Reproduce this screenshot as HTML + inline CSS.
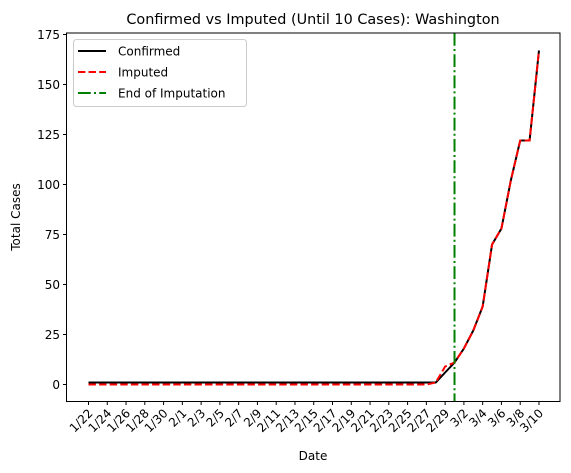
<!DOCTYPE html>
<html><head><meta charset="utf-8"><style>
body{margin:0;background:#fff}
svg{display:block;font-family:"DejaVu Sans","Liberation Sans",sans-serif}
</style></head><body>
<svg id="chart" width="571" height="473">
<text x="313" y="24" font-size="14.4" text-anchor="middle">Confirmed vs Imputed (Until 10 Cases): Washington</text>
<g id="axes"></g>
<g id="series"></g>
<rect x="66.5" y="33" width="493.5" height="368.5" fill="none" stroke="#000" stroke-width="1"/>
<text x="313" y="460" font-size="12" text-anchor="middle">Date</text>
<text transform="translate(20,217) rotate(-90)" font-size="12" text-anchor="middle">Total Cases</text>
<g>
<rect x="73.5" y="39.5" width="173" height="67" rx="3" fill="#fff" fill-opacity="0.8" stroke="#ccc"/>
<line x1="78" y1="51" x2="106" y2="51" stroke="#000" stroke-width="2"/>
<text x="118" y="55.5" font-size="12">Confirmed</text>
<line x1="78" y1="72" x2="106" y2="72" stroke="red" stroke-width="2" stroke-dasharray="7.4,3.2"/>
<text x="118" y="76.5" font-size="12">Imputed</text>
<line x1="78" y1="93" x2="106" y2="93" stroke="green" stroke-width="2" stroke-dasharray="12.8,3.2,2,3.2"/>
<text x="118" y="97.5" font-size="12">End of Imputation</text>
</g>
</svg>
<script>
const dates=[];
(function(){const m=[[1,22,31],[2,1,29],[3,1,10]];for(const [mo,a,b] of m)for(let d=a;d<=b;d++)dates.push(mo+'/'+d);})();
const confirmed=[1,1,1,1,1,1,1,1,1,1, 1,1,1,1,1,1,1,1,1,1,1,1,1,1,1,1,1,1,1,1,1,1,1,1,1,1,1,1,6, 11,18,27,39,70,78,102,122,122,167];
const imputed=[0,0,0,0,0,0,0,0,0,0, 0,0,0,0,0,0,0,0,0,0,0,0,0,0,0,0,0,0,0,0,0,0,0,0,0,0,0,1,9, 11,18,27,39,70,78,102,122,122,167];
const endDate='3/1';
const yTicks=[0,25,50,75,100,125,150,175];
const NS='http://www.w3.org/2000/svg';
const x=i=>88.5+i*9.385;
const y=v=>384.5-v*2.0;
function mk(t,a,p){const e=document.createElementNS(NS,t);for(const k in a)e.setAttribute(k,a[k]);p.appendChild(e);return e;}
const ax=document.getElementById('axes'),se=document.getElementById('series');
yTicks.forEach(v=>{
 const l=mk('line',{x1:63,x2:66.5,y1:y(v),y2:y(v),stroke:'#000'},ax);
 
 
 const t=mk('text',{x:60,y:y(v)+4.5,'font-size':12,'text-anchor':'end'},ax);t.textContent=v;
 
 
});
dates.forEach((d,i)=>{if(i%2)return;
 const l=mk('line',{x1:x(i),x2:x(i),y1:401.5,y2:405,stroke:'#000'},ax);
 
 
 const t=mk('text',{x:0,y:0,'font-size':12,'text-anchor':'end',transform:`translate(${x(i)+5},${414}) rotate(-45)`},ax);t.textContent=d;
 
 
});
const p1=mk('polyline',{points:confirmed.map((v,i)=>x(i)+','+y(v)).join(' '),fill:'none',stroke:'#000','stroke-width':2},se);


const p2=mk('polyline',{points:imputed.map((v,i)=>x(i)+','+y(v)).join(' '),fill:'none',stroke:'red','stroke-width':2,'stroke-dasharray':'7.4,3.2'},se);


const ei=dates.indexOf(endDate);
const vl=mk('line',{x1:x(ei),x2:x(ei),y1:33,y2:401.5,stroke:'green','stroke-width':2,'stroke-dasharray':'12.8,3.2,2,3.2'},se);


</script>
</body></html>
